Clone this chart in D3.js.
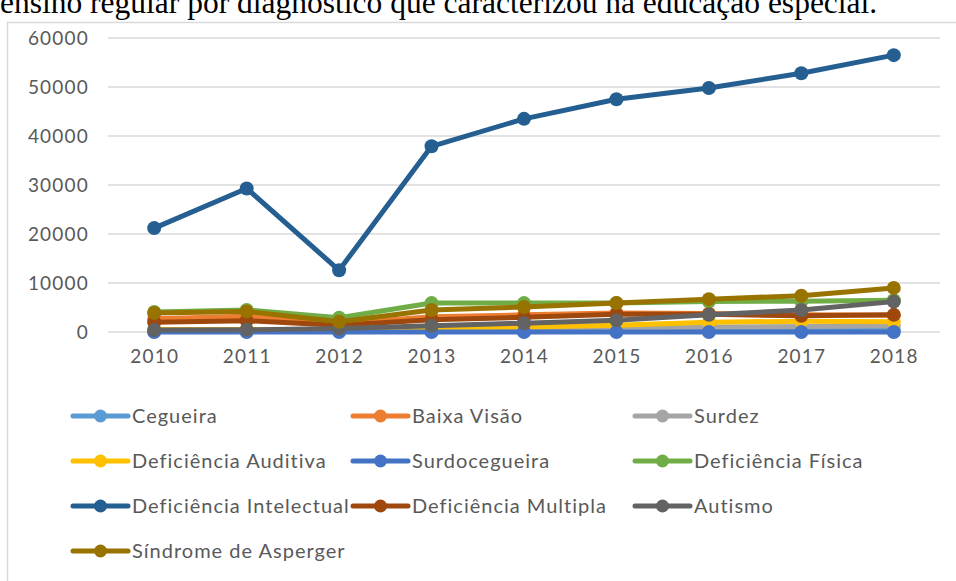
<!DOCTYPE html>
<html><head><meta charset="utf-8">
<script src="https://cdn.jsdelivr.net/npm/d3@7"></script>
<style>body{margin:0;background:#fff;overflow:hidden}svg{display:block}</style>
</head><body>
<svg id="c" width="956" height="581"></svg>
<script>
const years = ["2010","2011","2012","2013","2014","2015","2016","2017","2018"];
const yTicks = [0,10000,20000,30000,40000,50000,60000];
const seriesNames = ["Cegueira","Baixa Visão","Surdez","Deficiência Auditiva","Surdocegueira","Deficiência Física","Deficiência Intelectual","Deficiência Multipla","Autismo","Síndrome de Asperger"];
const cegueira      = [150,150,150,200,200,250,250,300,300];
const baixaVisao    = [2700,3200,1700,3100,3500,3900,3800,3500,3400];
const surdez        = [300,350,400,600,700,800,1000,1100,1300];
const defAuditiva   = [500,500,500,800,1000,1400,2000,2200,2100];
const surdocegueira = [0,0,0,0,0,0,0,0,0];
const defFisica     = [4100,4500,2900,5900,5900,5900,6200,6300,6500];
const defIntelect   = [21200,29300,12600,37900,43500,47500,49800,52800,56500];
const defMultipla   = [2000,2300,1400,2500,3000,3600,3600,3300,3500];
const autismo       = [400,450,700,1300,1800,2400,3500,4500,6200];
const asperger      = [3900,4200,2100,4500,5100,5900,6700,7400,9000];
const seriesValues = [cegueira,baixaVisao,surdez,defAuditiva,surdocegueira,defFisica,defIntelect,defMultipla,autismo,asperger];
const colors = ["#5B9BD5","#ED7D31","#A5A5A5","#FFC000","#4472C4","#70AD47","#255E91","#9E480E","#636363","#997300"];

const svg = d3.select("#c");
const font = "Lato, 'Open Sans', sans-serif";
const txt = "#595959";

// caption (cut off at top, as in the reference)
svg.append("text").attr("x",0).attr("y",13)
  .attr("font-family","'Liberation Serif', 'Times New Roman', serif")
  .attr("font-size",31.5).attr("fill","#000")
  .text("ensino regular por diagnóstico que caracterizou na educação especial.");

// chart border
svg.append("rect").attr("x",7.5).attr("y",22.5).attr("width",960).attr("height",600)
  .attr("fill","#fff").attr("stroke","#d9d9d9").attr("stroke-width",1.5);

const x = d3.scalePoint().domain(years).range([108,940]).padding(0.5);
const y = d3.scaleLinear().domain([0,60000]).range([332,38]);

// gridlines
svg.append("g").selectAll("line").data(yTicks).join("line")
  .attr("x1",108).attr("x2",940).attr("y1",d=>y(d)).attr("y2",d=>y(d))
  .attr("stroke","#d9d9d9").attr("stroke-width",1.5);

// y axis
const ya = svg.append("g").attr("transform","translate(89,0)")
  .call(d3.axisLeft(y).tickValues(yTicks).tickSize(0).tickPadding(0).tickFormat(d3.format("d")));
ya.select(".domain").remove();
ya.selectAll("text").attr("font-family",font).attr("font-size",19).attr("letter-spacing",1.2).attr("fill",txt);

// x axis
const xa = svg.append("g").attr("transform","translate(0,344)")
  .call(d3.axisBottom(x).tickSize(0).tickPadding(6));
xa.select(".domain").remove();
xa.selectAll("text").attr("font-family",font).attr("font-size",19).attr("letter-spacing",1.2).attr("fill",txt);

const line = d3.line().x((d,i)=>x(years[i])).y(d=>y(d));
seriesValues.forEach((vals,k)=>{
  const g = svg.append("g");
  g.append("path").datum(vals).attr("d",line).attr("fill","none")
    .attr("stroke",colors[k]).attr("stroke-width",5).attr("stroke-linejoin","round").attr("stroke-linecap","round");
  g.selectAll("circle").data(vals).join("circle")
    .attr("cx",(d,i)=>x(years[i])).attr("cy",d=>y(d)).attr("r",7).attr("fill",colors[k]);
});

// legend
const colX = [73,353,635];
const rowY = [416,461,506,551];
seriesNames.forEach((n,k)=>{
  const cx = colX[k%3], cy = rowY[Math.floor(k/3)];
  const g = svg.append("g");
  g.append("line").attr("x1",cx).attr("x2",cx+55).attr("y1",cy).attr("y2",cy)
    .attr("stroke",colors[k]).attr("stroke-width",5).attr("stroke-linecap","round");
  g.append("circle").attr("cx",cx+27.5).attr("cy",cy).attr("r",6.5).attr("fill",colors[k]);
  g.append("text").attr("x",cx+59).attr("y",cy).attr("dy","0.35em")
    .attr("font-family",font).attr("font-size",20).attr("letter-spacing",1).attr("fill",txt).text(n);
});
</script>
</body></html>
